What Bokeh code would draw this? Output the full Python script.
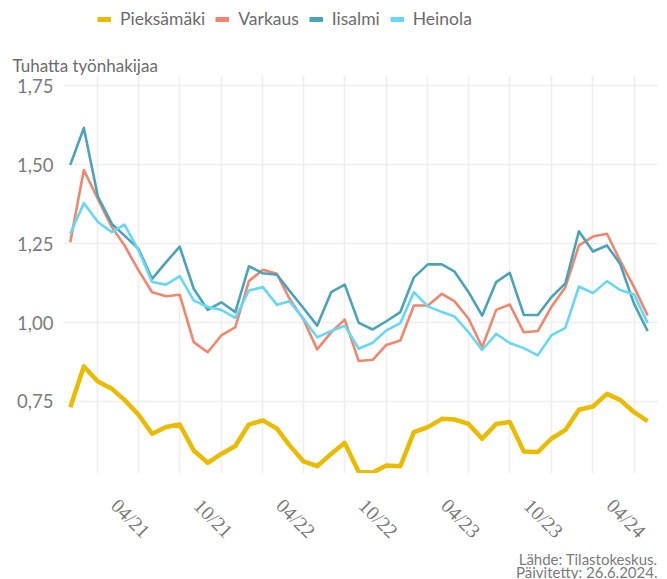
import math
import pandas as pd
from bokeh.plotting import figure
from bokeh.layouts import column
from bokeh.models import (Range1d, FixedTicker, Legend, LegendItem, Title, Label,
                          LabelSet, ColumnDataSource)
from bokeh.embed import file_html
from bokeh.resources import INLINE

# ---- data (thousands of job seekers, monthly Nov 2020 .. May 2024) ----
months = pd.date_range("2020-11-01", periods=43, freq="MS")

pieksamaki = [0.732, 0.861, 0.813, 0.790, 0.755, 0.708, 0.648, 0.669, 0.677, 0.595,
              0.556, 0.584, 0.609, 0.677, 0.690, 0.664, 0.611, 0.560, 0.545, 0.584,
              0.619, 0.527, 0.525, 0.547, 0.545, 0.653, 0.669, 0.695, 0.693, 0.679,
              0.632, 0.679, 0.685, 0.592, 0.590, 0.632, 0.660, 0.724, 0.734, 0.774,
              0.755, 0.716, 0.688]
varkaus = [1.254, 1.483, 1.391, 1.302, 1.244, 1.165, 1.096, 1.083, 1.088, 0.938,
           0.906, 0.959, 0.985, 1.131, 1.167, 1.154, 1.075, 1.009, 0.915, 0.969,
           1.009, 0.878, 0.882, 0.929, 0.943, 1.054, 1.054, 1.091, 1.067, 1.012,
           0.922, 1.040, 1.057, 0.969, 0.973, 1.049, 1.112, 1.244, 1.272, 1.281,
           1.196, 1.112, 1.022]
iisalmi = [1.499, 1.616, 1.399, 1.312, 1.275, 1.233, 1.138, 1.191, 1.240, 1.107,
           1.040, 1.064, 1.033, 1.178, 1.156, 1.151, 1.100, 1.045, 0.990, 1.096,
           1.120, 0.999, 0.978, 1.004, 1.033, 1.143, 1.184, 1.184, 1.161, 1.096,
           1.022, 1.128, 1.157, 1.024, 1.024, 1.080, 1.124, 1.289, 1.225, 1.244,
           1.186, 1.059, 0.973]
heinola = [1.281, 1.378, 1.318, 1.286, 1.310, 1.228, 1.128, 1.120, 1.147, 1.070,
           1.049, 1.040, 1.015, 1.101, 1.112, 1.056, 1.067, 1.012, 0.953, 0.973,
           0.990, 0.917, 0.936, 0.975, 0.998, 1.096, 1.051, 1.033, 1.019, 0.969,
           0.913, 0.964, 0.935, 0.919, 0.896, 0.959, 0.983, 1.114, 1.093, 1.131,
           1.103, 1.089, 0.998]

series_names = ["Pieksämäki", "Varkaus", "Iisalmi", "Heinola"]
series_colors = ["#ebbb00", "#f0876d", "#4ba3ba", "#66d8f6"]

grid_dates = ["2021-01-01", "2021-04-01", "2021-07-01", "2021-10-01",
              "2022-01-01", "2022-04-01", "2022-07-01", "2022-10-01",
              "2023-01-01", "2023-04-01", "2023-07-01", "2023-10-01",
              "2024-01-01", "2024-04-01"]
label_dates = ["2021-04-01", "2021-10-01", "2022-04-01", "2022-10-01",
               "2023-04-01", "2023-10-01", "2024-04-01"]
tick_labels = ["04/21", "10/21", "04/22", "10/22", "04/23", "10/23", "04/24"]
y_ticks = [0.75, 1.00, 1.25, 1.50, 1.75]
y_tick_labels = ["0,75", "1,00", "1,25", "1,50", "1,75"]

y_title = "Tuhatta työnhakijaa"
caption1 = "Lähde: Tilastokeskus."
caption2 = "Päivitetty: 26.6.2024."

# ---- helpers / style ----
def ms(d):
    return pd.Timestamp(d).value // 10**6

TXT = "#6b6b6b"
TICK = "#7b7b7b"
W = 659
FONT = "Lato"

# ---- legend strip (top) ----
lf = figure(width=W, height=40, output_backend="svg", toolbar_location=None,
            x_range=Range1d(0, 1), y_range=Range1d(0, 1),
            x_axis_location=None, y_axis_location=None, min_border=0)
lf.outline_line_color = None
lf.xgrid.visible = False
lf.ygrid.visible = False
items = []
for k in range(4):
    r = lf.line([float("nan")], [float("nan")], line_color=series_colors[k],
                line_width=5)
    items.append(LegendItem(label=series_names[k], renderers=[r]))
legend = Legend(items=items, orientation="horizontal", location=(34, 11),
                background_fill_alpha=0, border_line_alpha=0,
                label_text_font=FONT, label_text_font_size="17.5px",
                label_text_color=TXT, glyph_width=14, glyph_height=20,
                label_standoff=9, spacing=10, padding=0, margin=0)
lf.add_layout(legend)

# ---- main chart ----
x_range = Range1d(ms("2020-10-17"), ms("2024-05-25"))
p = figure(width=W, height=433, x_axis_type="datetime", x_axis_location=None,
           output_backend="svg", toolbar_location=None,
           x_range=x_range, y_range=Range1d(0.522, 1.782),
           min_border_left=63, min_border_right=1, min_border_top=35,
           min_border_bottom=0)
p.outline_line_color = None

widths = [4.5, 2.6, 2.6, 2.6]
data = [pieksamaki, varkaus, iisalmi, heinola]
for k in [1, 2, 3, 0]:
    p.line(months, data[k], line_color=series_colors[k], line_width=widths[k],
           line_join="round")

p.xgrid.ticker = FixedTicker(ticks=[ms(d) for d in grid_dates])
p.yaxis.ticker = FixedTicker(ticks=y_ticks)
p.yaxis.major_label_overrides = {t: l for t, l in zip(y_ticks, y_tick_labels)}
ya = p.yaxis[0]
ya.axis_line_color = None
ya.major_tick_line_color = None
ya.minor_tick_line_color = None
ya.major_tick_out = 0
ya.major_tick_in = 0
ya.major_label_text_font = FONT
ya.major_label_text_font_size = "18.5px"
ya.major_label_text_color = TICK
ya.major_label_standoff = 10

p.xgrid.grid_line_color = "#efefef"
p.ygrid.grid_line_color = "#efefef"
p.xgrid.grid_line_width = 1.6
p.ygrid.grid_line_width = 1.6

p.add_layout(Title(text=y_title, align="left", offset=-51, standoff=0,
                   text_font=FONT, text_font_size="17px",
                   text_font_style="normal", text_color=TXT), "above")

# ---- bottom strip: rotated x tick labels + caption ----
bf = figure(width=W, height=106, output_backend="svg", toolbar_location=None,
            x_range=x_range, y_range=Range1d(0, 1),
            x_axis_location=None, y_axis_location=None, min_border=0)
bf.outline_line_color = None
bf.xgrid.visible = False
bf.ygrid.visible = False
src = ColumnDataSource(dict(x=[ms(d) for d in label_dates], text=tick_labels))
bf.add_layout(LabelSet(x="x", y=69, y_units="screen", text="text", source=src,
                       angle=-math.pi / 4, text_align="center", text_baseline="top",
                       text_font=FONT, text_font_size="20px", text_color=TICK))
bf.add_layout(Label(x=594, y=21, x_units="screen", y_units="screen", text=caption1,
                    text_font=FONT, text_font_size="15px", text_color=TICK,
                    text_align="right", text_baseline="alphabetic"))
bf.add_layout(Label(x=594, y=8, x_units="screen", y_units="screen", text=caption2,
                    text_font=FONT, text_font_size="15px", text_color=TICK,
                    text_align="right", text_baseline="alphabetic"))

layout = column(lf, p, bf, spacing=0)
open("out.html", "w").write(file_html(layout, INLINE))
